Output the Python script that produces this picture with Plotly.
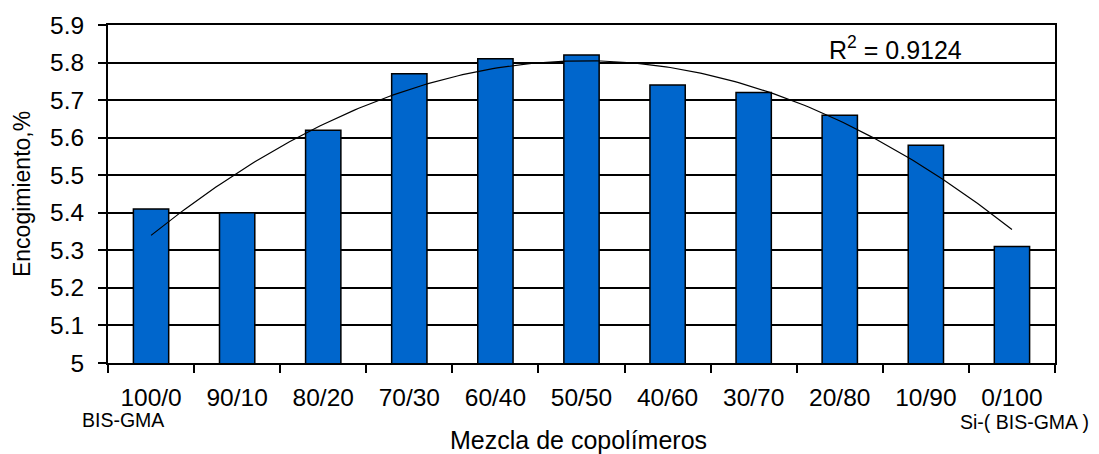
import numpy as np
import plotly.graph_objects as go

# Mezclas de copolímeros (BIS-GMA / Si-BIS-GMA) y su encogimiento en %
mezclas = ["100/0", "90/10", "80/20", "70/30", "60/40", "50/50",
           "40/60", "30/70", "20/80", "10/90", "0/100"]
encogimiento = [5.41, 5.40, 5.62, 5.77, 5.81, 5.82, 5.74, 5.72, 5.66, 5.58, 5.31]

y_ticks = [5.0, 5.1, 5.2, 5.3, 5.4, 5.5, 5.6, 5.7, 5.8, 5.9]
y_ticktext = ["5", "5.1", "5.2", "5.3", "5.4", "5.5", "5.6", "5.7", "5.8", "5.9"]
r2_text = "R<sup>2</sup> = 0.9124"

FONT = "Liberation Sans, Arial, sans-serif"

# Línea de tendencia polinómica de orden 2 ajustada a los datos
pos = np.arange(len(mezclas))
coef = np.polyfit(pos, encogimiento, 2)
xs = np.linspace(pos[0], pos[-1], 200)
ys = np.polyval(coef, xs)

fig = go.Figure()
fig.add_trace(go.Bar(
    x=mezclas, y=encogimiento, width=0.41,
    marker=dict(color="#0066CC", line=dict(color="#000000", width=1.5)),
    showlegend=False, hoverinfo="x+y",
))
fig.add_trace(go.Scatter(
    x=xs, y=ys, xaxis="x2", mode="lines",
    line=dict(color="#000000", width=1.2),
    showlegend=False, hoverinfo="skip",
))

fig.update_layout(
    width=1099, height=454,
    margin=dict(l=108, r=44, t=17, b=91),
    paper_bgcolor="white", plot_bgcolor="white",
    font=dict(family=FONT, size=24, color="#000000"),
    xaxis=dict(
        type="category", tickson="boundaries",
        ticks="outside", ticklen=8, tickwidth=2, tickcolor="#000000",
        showline=True, linecolor="#000000", linewidth=2, mirror=True,
        showgrid=False, ticklabelstandoff=12,
        tickfont=dict(size=24.5),
        range=[-0.5, len(mezclas) - 0.5],
    ),
    xaxis2=dict(
        overlaying="x", range=[-0.5, len(mezclas) - 0.5],
        visible=False, showgrid=False,
    ),
    yaxis=dict(
        range=[5.0, 5.9], tickmode="array", tickvals=y_ticks, ticktext=y_ticktext,
        ticks="outside", ticklen=8, tickwidth=2, tickcolor="#000000",
        showline=True, linecolor="#000000", linewidth=2, mirror=True,
        showgrid=True, gridcolor="#000000", gridwidth=1.5,
        zeroline=False, ticklabelstandoff=9,
        tickfont=dict(size=24.5),
    ),
    annotations=[
        dict(text="Encogimiento,%", xref="paper", yref="paper",
             x=-0.0908, y=0.5, textangle=-90, showarrow=False,
             xanchor="center", yanchor="middle", font=dict(size=23)),
        dict(text="Mezcla de copolímeros", xref="paper", yref="paper",
             x=0.497, y=-0.228, showarrow=False,
             xanchor="center", yanchor="middle", font=dict(size=25)),
        dict(text="BIS-GMA", xref="paper", yref="paper",
             x=0.0158, y=-0.168, showarrow=False,
             xanchor="center", yanchor="middle", font=dict(size=19.5)),
        dict(text="Si-( BIS-GMA )", xref="paper", yref="paper",
             x=0.968, y=-0.176, showarrow=False,
             xanchor="center", yanchor="middle", font=dict(size=19.5)),
        dict(text=r2_text, xref="paper", yref="paper",
             x=0.832, y=0.932, showarrow=False,
             xanchor="center", yanchor="middle", font=dict(size=25)),
    ],
)

fig.write_html("out.html")
